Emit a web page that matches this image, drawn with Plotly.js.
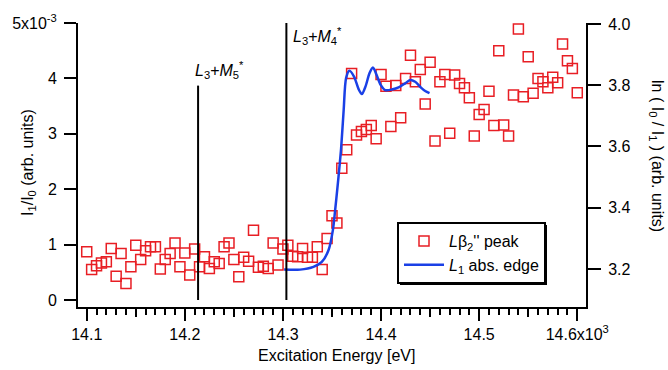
<!DOCTYPE html>
<html><head><meta charset="utf-8">
<script src="https://cdn.plot.ly/plotly-3.0.1.min.js"></script>
<style>html,body{margin:0;padding:0;background:#fff}#chart{width:668px;height:370px}</style>
</head><body><div id="chart"></div>
<script>
// Excitation energy (keV) of each L beta2'' peak measurement
const energy = [
 14.100,14.105,14.110,14.115,14.120,14.125,14.130,14.135,14.140,14.145,
 14.150,14.155,14.160,14.165,14.170,14.175,14.180,14.185,14.190,14.195,
 14.200,14.205,14.210,14.215,14.220,14.225,14.230,14.235,14.240,14.245,
 14.250,14.255,14.260,14.265,14.270,14.275,14.280,14.285,14.290,14.295,
 14.300,14.305,14.310,14.315,14.320,14.325,14.330,14.335,14.340,14.345,
 14.350,14.355,14.360,14.365,14.370,14.375,14.380,14.385,14.390,14.395,
 14.400,14.405,14.410,14.415,14.420,14.425,14.430,14.435,14.440,14.445,
 14.450,14.455,14.460,14.465,14.470,14.475,14.480,14.485,14.490,14.495,
 14.500,14.505,14.510,14.515,14.520,14.525,14.530,14.535,14.540,14.545,
 14.550,14.555,14.560,14.565,14.570,14.575,14.580,14.585,14.590,14.595,
 14.600];
// I1/I0 in units of 1e-3
const peakRatio = [
 0.87,0.55,0.62,0.67,0.69,0.93,0.43,0.84,0.30,0.60,
 0.99,0.73,0.89,0.96,0.96,0.56,0.73,0.84,1.03,0.60,
 0.85,0.45,0.92,0.60,0.78,0.57,0.69,0.66,0.96,1.03,
 0.73,0.42,0.77,0.70,1.26,0.59,0.61,0.57,1.03,0.63,
 0.92,0.99,0.79,0.78,0.93,0.77,0.77,0.96,0.55,1.11,
 1.52,1.39,2.38,2.71,4.09,2.98,3.04,3.08,3.15,2.91,
 4.07,3.86,3.13,3.87,3.29,4.00,4.42,3.94,4.16,3.54,
 4.29,2.87,3.94,4.07,3.01,4.06,3.91,3.83,3.65,2.96,
 3.35,3.44,3.77,3.15,4.50,3.16,2.96,3.70,4.89,3.67,
 4.39,3.73,4.00,3.94,3.83,4.02,3.92,4.62,4.32,4.18,
 3.74];
// L1 absorption edge: ln(I0/I1)
const edgeEnergy = [14.3012,14.3175,14.3311,14.3396,14.3464,14.3509,14.3532,14.3556,14.3576,14.3593,
 14.3619,14.3644,14.3678,14.3726,14.3770,14.3804,14.3843,14.3882,14.3917,14.3955,
 14.3996,14.4042,14.4110,14.4185,14.4246,14.4297,14.4348,14.4404,14.4450,14.4494];
const edgeLn = [3.198,3.198,3.207,3.223,3.261,3.327,3.392,3.467,3.534,3.594,
 3.719,3.824,3.847,3.827,3.788,3.771,3.797,3.839,3.858,3.833,
 3.801,3.784,3.786,3.794,3.806,3.817,3.811,3.793,3.781,3.774];
// marker lines for threshold energies
const thresholdLabels = ['<i>L</i><sub>3</sub>+<i>M</i><sub>5</sub><sup>*</sup>', '<i>L</i><sub>3</sub>+<i>M</i><sub>4</sub><sup>*</sup>'];
const thresholdEnergy = [14.2135, 14.3035];
const thresholdTop = [3.87, 5.0];
// tick labels
const xTickVals = [14.1,14.2,14.3,14.4,14.5,14.6];
const xTickText = ['14.1','14.2','14.3','14.4','14.5','14.6x10<sup>3</sup>'];
const xMidTicks = [14.15,14.25,14.35,14.45,14.55];
const yLeftVals = [0,1,2,3,4,5];
const yLeftText = ['0','1','2','3','4','5x10<sup>-3</sup>'];
const yRightVals = [3.2,3.4,3.6,3.8,4.0];
const yRightText = ['3.2','3.4','3.6','3.8','4.0'];

const FONT = '"Liberation Sans", Arial, Helvetica, sans-serif';
const RED = 'rgb(232,30,36)';
const BLUE = 'rgb(26,64,230)';
const xRange = [14.0911, 14.6089];

const traces = [];
traces.push({
  x: energy, y: peakRatio, type: 'scatter', mode: 'markers', xaxis: 'x', yaxis: 'y',
  name: '<i>L</i>β<sub>2</sub>\'\' peak',
  marker: {symbol: 'square-open', size: 10, color: RED, line: {width: 1.5, color: RED}}
});
thresholdEnergy.forEach((e, i) => {
  traces.push({x: [e, e], y: [0, thresholdTop[i]], type: 'scatter', mode: 'lines', xaxis: 'x2', yaxis: 'y',
    line: {color: '#000', width: 2}, showlegend: false, hoverinfo: 'skip'});
});
traces.push({
  x: edgeEnergy, y: edgeLn, type: 'scatter', mode: 'lines', xaxis: 'x', yaxis: 'y2',
  name: '<i>L</i><sub>1</sub> abs. edge',
  line: {color: BLUE, width: 2.5, shape: 'spline', smoothing: 0.8}
});

const P = (px) => (px - 78) / 508;
const Q = (py) => (307 - py) / 284;
const annotations = [
  {text: 'Excitation Energy [eV]', xref: 'paper', yref: 'paper', x: P(336), y: Q(355), showarrow: false, xanchor: 'center', yanchor: 'middle', font: {size: 16}},
  {text: 'I<sub>1</sub>/I<sub>0</sub> (arb. units)', xref: 'paper', yref: 'paper', x: P(28), y: Q(163), showarrow: false, textangle: -90, xanchor: 'center', yanchor: 'middle', font: {size: 16}},
  {text: 'ln ( I<sub>0</sub> / I<sub>1</sub> ) (arb. units)', xref: 'paper', yref: 'paper', x: P(657), y: Q(156), showarrow: false, textangle: 90, xanchor: 'center', yanchor: 'middle', font: {size: 16}},
  {text: thresholdLabels[0], xref: 'paper', yref: 'paper', x: P(193), y: Q(70), showarrow: false, xanchor: 'left', yanchor: 'middle', font: {size: 16}},
  {text: thresholdLabels[1], xref: 'paper', yref: 'paper', x: P(291), y: Q(36), showarrow: false, xanchor: 'left', yanchor: 'middle', font: {size: 16}}
];

const axisCommon = {showgrid: false, zeroline: false, linecolor: '#000', tickcolor: '#000', linewidth: 2, tickwidth: 2, ticks: 'outside'};
const layout = {
  width: 668, height: 370,
  margin: {l: 78, r: 82, t: 23, b: 63, pad: 0},
  paper_bgcolor: '#fff', plot_bgcolor: '#fff',
  font: {family: FONT, size: 16, color: '#000'},
  showlegend: true,
  legend: {x: P(397), y: Q(222), xanchor: 'left', yanchor: 'top', bordercolor: '#000', borderwidth: 2, bgcolor: '#fff', font: {size: 16}, itemwidth: 40},
  xaxis: Object.assign({}, axisCommon, {range: xRange, tickmode: 'array', tickvals: xTickVals, ticktext: xTickText, ticklen: 12, showline: true, anchor: 'y',
    minor: {tickmode: 'linear', tick0: 14.1, dtick: 0.01, ticks: 'outside', ticklen: 6, tickwidth: 2, tickcolor: '#000', showgrid: false}}),
  xaxis2: Object.assign({}, axisCommon, {overlaying: 'x', anchor: 'y', side: 'bottom', range: xRange, tickmode: 'array', tickvals: xMidTicks, ticklen: 9, showticklabels: false, showline: false}),
  yaxis: Object.assign({}, axisCommon, {range: [-0.126, 5.0], tickmode: 'array', tickvals: yLeftVals, ticktext: yLeftText, ticklen: 12, showline: true, anchor: 'x', ticklabelstandoff: 4}),
  yaxis2: Object.assign({}, axisCommon, {overlaying: 'y', side: 'right', anchor: 'x', range: [3.076, 4.003], tickmode: 'array', tickvals: yRightVals, ticktext: yRightText, ticklen: 13, showline: true, ticklabelstandoff: 4}),
  annotations: annotations
};
Plotly.newPlot('chart', traces, layout, {staticPlot: true, displayModeBar: false}).then(gd => {
  // drop shadow behind the legend box, placed from the legend's own rendered geometry
  const lg = gd.querySelector('g.legend');
  const bg = lg && lg.querySelector('rect.bg');
  if (!bg) return;
  const m = /translate\(([-\d.]+)[ ,]+([-\d.]+)\)/.exec(lg.getAttribute('transform') || '');
  const tx = m ? parseFloat(m[1]) : 0, ty = m ? parseFloat(m[2]) : 0;
  const w = parseFloat(bg.getAttribute('width')), h = parseFloat(bg.getAttribute('height'));
  const off = 3;
  return Plotly.relayout(gd, {shapes: [{type: 'rect', xref: 'paper', yref: 'paper', layer: 'above',
    x0: P(tx + off), x1: P(tx + w + off), y0: Q(ty + h + off), y1: Q(ty + off),
    fillcolor: '#000', line: {width: 0}}]});
});
</script></body></html>
